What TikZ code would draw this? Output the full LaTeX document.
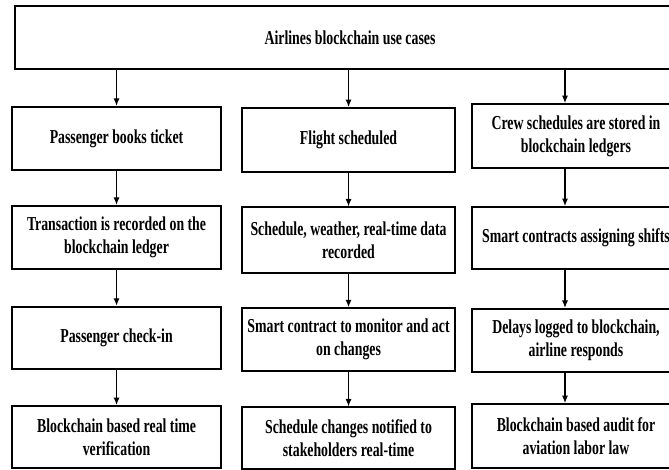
\documentclass[tikz,border=0pt]{standalone}
\usepackage{fontspec}
\setmainfont{Liberation Serif}[FakeStretch=0.70]
\usetikzlibrary{arrows.meta}

\begin{document}
\begin{tikzpicture}[x=0.75pt,y=-0.75pt]
	\tikzset{box/.style={draw,line width=1.5pt,rectangle,inner sep=0pt,align=center,
		font=\bfseries\fontsize{14.8}{17.3}\selectfont,minimum width=157pt}}
	\tikzset{flow/.style={-{Latex[length=5.5pt,width=4.5pt]},line width=0.8pt}}

	\useasboundingbox (0,0) rectangle (669,470);
	\clip (0,0) rectangle (669,470);

	\node[box,minimum width=502pt,minimum height=47pt] (uses) at (350,37.5) {Airlines blockchain use cases};

	\begin{scope}[xshift=87.4pt]
	    \node[box,minimum height=47.5pt] (a1) at (0,138.5) {Passenger books ticket};
	    \node[box,minimum height=47.5pt] (a2) at (0,237.5) {Transaction is recorded on the\\blockchain ledger};
	    \node[box,minimum height=47pt] (a3) at (0,338) {Passenger check-in};
	    \node[box,minimum height=46.5pt] (a4) at (0,437) {Blockchain based real time\\verification};
	\end{scope}

	\begin{scope}[xshift=261.4pt]
	    \node[box,minimum width=160pt,minimum height=48pt] (b1) at (0,140) {Flight scheduled};
	    \node[box,minimum width=160pt,minimum height=49pt] (b2) at (0,240) {Schedule, weather, real-time data\\recorded};
	    \node[box,minimum width=160pt,minimum height=47pt] (b3) at (0,339.5) {Smart contract to monitor and act\\on changes};
	    \node[box,minimum width=160pt,minimum height=46pt] (b4) at (0,438) {Schedule changes notified to\\stakeholders real-time};
	\end{scope}

	\begin{scope}[xshift=432pt]
	    \coordinate (cx) at (-11,0);
	    \node[box,minimum width=156pt,minimum height=48pt] (c1) at (0,136) {Crew schedules are stored in\\blockchain ledgers};
	    \node[box,minimum width=156pt,minimum height=46.5pt] (c2) at (0,238) {Smart contracts assigning shifts};
	    \node[box,minimum width=156pt,minimum height=47.5pt] (c3) at (0,340.5) {Delays logged to blockchain,\\airline responds};
	    \node[box,minimum width=156pt,minimum height=48pt] (c4) at (0,436) {Blockchain based audit for\\aviation labor law};
	\end{scope}

	\draw[flow] (uses.south -| a1.north) -- (a1.north);
	\draw[flow] (uses.south -| b1.north) -- (b1.north);
	\draw[flow] (uses.south -| cx) -- (c1.north -| cx);

	\draw[flow] (a1) -- (a2);
	\draw[flow] (a2) -- (a3);
	\draw[flow] (a3) -- (a4);

	\draw[flow] (b1) -- (b2);
	\draw[flow] (b2) -- (b3);
	\draw[flow] (b3) -- (b4);

	\draw[flow] (c1.south -| cx) -- (c2.north -| cx);
	\draw[flow] (c2.south -| cx) -- (c3.north -| cx);
	\draw[flow] (c3.south -| cx) -- (c4.north -| cx);
\end{tikzpicture}
\end{document}
